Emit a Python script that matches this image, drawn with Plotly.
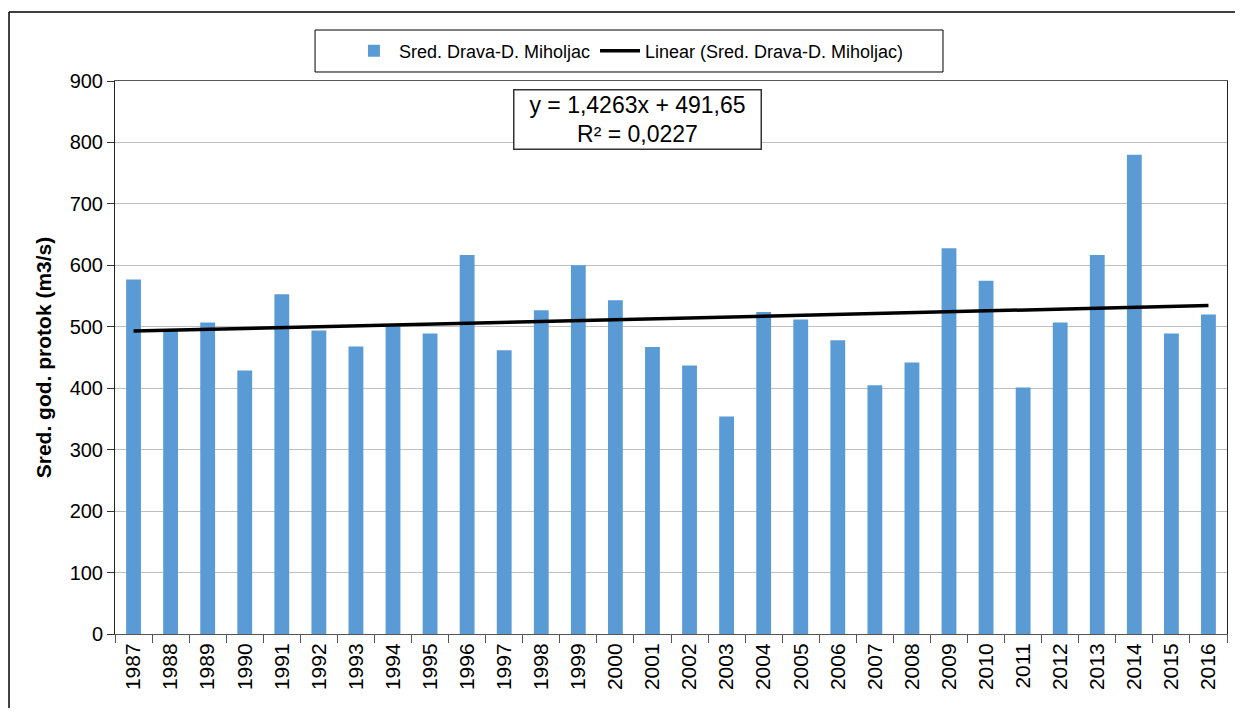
import plotly.graph_objects as go

years = [str(y) for y in range(1987, 2017)]
flow = [577, 493, 507, 429, 553, 494, 468, 501, 489, 617,
        462, 527, 600, 543, 467, 437, 354, 524, 512, 478,
        405, 442, 628, 575, 401, 507, 617, 780, 489, 520]
trend_slope = 1.4263
trend_intercept = 491.65
series_name = "Sred. Drava-D. Miholjac"
trend_name = "Linear (Sred. Drava-D. Miholjac)"
eq_text = "y = 1,4263x + 491,65<br>R² = 0,0227"
y_title = "Sred. god. protok (m3/s)"

trend = [trend_slope * (i + 1) + trend_intercept for i in range(len(years))]

FONT = "Arial, Liberation Sans, sans-serif"

fig = go.Figure()
fig.add_trace(go.Bar(x=years, y=flow, name=series_name,
                     marker=dict(color="#5B9BD5", line=dict(width=0))))
fig.add_trace(go.Scatter(x=years, y=trend, name=trend_name, mode="lines",
                         line=dict(color="black", width=3.5)))

fig.update_layout(
    width=1227, height=700,
    margin=dict(l=107, r=8, t=73, b=74),
    paper_bgcolor="white", plot_bgcolor="white",
    font=dict(family=FONT, color="black"),
    bargap=0.6,
    showlegend=True,
    legend=dict(orientation="h", x=0.4622, xanchor="center", y=1.0542, yanchor="middle",
                borderwidth=0, bgcolor="rgba(0,0,0,0)",
                font=dict(size=18, family=FONT), itemwidth=40,
                traceorder="normal"),
    xaxis=dict(type="category", tickangle=-90, tickfont=dict(size=21),
               ticks="outside", ticklen=8, tickson="boundaries", tickcolor="#555",
               showline=True, linecolor="#555", linewidth=1, mirror=True,
               showgrid=False),
    yaxis=dict(range=[0, 900], dtick=100, tickfont=dict(size=20),
               ticks="outside", ticklen=7, tickcolor="#333",
               showline=True, linecolor="#222", linewidth=1, mirror=True,
               gridcolor="#BFBFBF", gridwidth=1, zeroline=False,
               title=dict(text="<b>" + y_title + "</b>", font=dict(size=21), standoff=12)),
)

fig.add_annotation(xref="paper", yref="paper", x=0.4703, y=0.9295,
                   xanchor="center", yanchor="middle", showarrow=False,
                   text=eq_text, font=dict(size=23, family=FONT),
                   bordercolor="#333", borderwidth=1.5, borderpad=1,
                   bgcolor="white", align="center", width=244)

# legend frame
fig.add_shape(type="rect", xref="paper", yref="paper",
              x0=0.1799, y0=1.0163, x1=0.7446, y1=1.0922,
              line=dict(color="black", width=1), layer="below")

# outer chart frame (left and top edges)
fig.add_shape(type="line", xref="paper", yref="paper",
              x0=-0.0953, y0=1.1248, x1=1.0072, y1=1.1248,
              line=dict(color="black", width=1.5))
fig.add_shape(type="line", xref="paper", yref="paper",
              x0=-0.0953, y0=1.1248, x1=-0.0953, y1=-0.134,
              line=dict(color="black", width=1.5))

fig.write_html("out.html")
